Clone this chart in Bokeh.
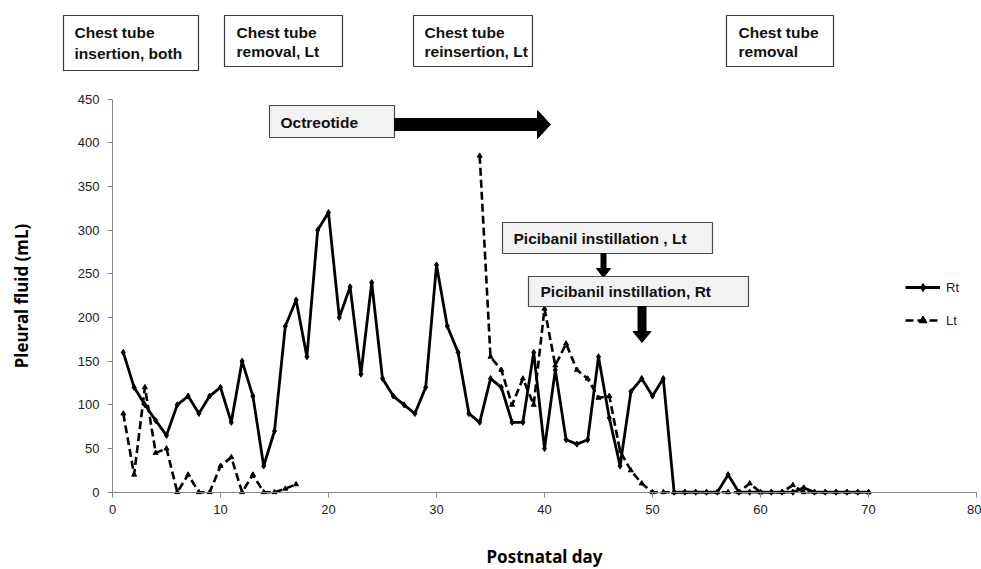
from bokeh.plotting import figure
from bokeh.models import Range1d, Legend, LegendItem, FixedTicker
from bokeh.core.properties import value
from bokeh.embed import file_html
from bokeh.resources import INLINE

nan = float("nan")

# ---------------- data ----------------
days = list(range(1, 71))
rt_ml = [160, 120, 100, 82, 65, 100, 110, 90, 110, 120,
         80, 150, 110, 30, 70, 190, 220, 155, 300, 320,
         200, 235, 135, 240, 130, 110, 100, 90, 120, 260,
         190, 160, 90, 80, 130, 120, 80, 80, 160, 50,
         140, 60, 55, 60, 155, 85, 30, 115, 130, 110,
         130, 0, 0, 0, 0, 0, 20, 0, 0, 0,
         0, 0, 0, 5, 0, 0, 0, 0, 0, 0]
lt_ml = [90, 20, 120, 45, 50, 0, 20, 0, 0, 30,
         40, 0, 20, 0, 0, 4, 9, nan, nan, nan,
         nan, nan, nan, nan, nan, nan, nan, nan, nan, nan,
         nan, nan, nan, 385, 155, 140, 100, 130, 100, 210,
         145, 170, 140, 130, 108, 110, 47, 25, 10, 0,
         0, 0, 0, 0, 0, 0, 0, 0, 10, 0,
         0, 0, 8, 0, 0, 0, 0, 0, 0, 0]
x_ticks = [0, 10, 20, 30, 40, 50, 60, 70, 80]
y_ticks = [0, 50, 100, 150, 200, 250, 300, 350, 400, 450]
series_names = ["Rt", "Lt"]
top_notes = [["Chest tube", "insertion, both"],
             ["Chest tube", "removal, Lt"],
             ["Chest tube", "reinsertion, Lt"],
             ["Chest tube", "removal"]]
octreotide_text = "Octreotide"
picibanil_lt_text = "Picibanil  instillation , Lt"
picibanil_rt_text = "Picibanil  instillation, Rt"

# ---------------- layout ----------------
W, H = 981, 569
FONT = "Liberation Sans"
X0, XS = 112.0, 10.8            # page x of day 0, px per day
Y0, YS = 491.7, 393.2 / 450     # page y of 0 mL, px per mL


def X(px):
    return (px - X0) / XS


def Y(py):
    return (Y0 - py) / YS


p = figure(width=W, height=H, x_range=Range1d(X(0), X(W)), y_range=Range1d(Y(H), Y(0)),
           toolbar_location=None, output_backend="svg", min_border=0)
p.title.visible = False
p.outline_line_color = None
p.xgrid.visible = False
p.ygrid.visible = False
p.xaxis.ticker = FixedTicker(ticks=x_ticks)
p.yaxis.ticker = FixedTicker(ticks=y_ticks)
p.xaxis.fixed_location = 0
p.yaxis.fixed_location = 0
p.xaxis.bounds = (x_ticks[0], x_ticks[-1])
p.yaxis.bounds = (y_ticks[0], y_ticks[-1])
for ax in (p.xaxis, p.yaxis):
    ax.axis_line_color = "#868686"
    ax.major_tick_line_color = "#868686"
    ax.minor_tick_line_color = None
    ax.major_tick_out = 5
    ax.major_tick_in = 0
    ax.major_label_text_font = FONT
    ax.major_label_text_font_size = "13px"
    ax.major_label_text_color = "#222222"
    ax.axis_label_text_font = "Noto Sans"
    ax.axis_label_text_font_style = "bold"
    ax.axis_label_text_font_size = "17px"
    ax.axis_label_text_color = "#000000"
    ax.major_label_standoff = 8
p.xaxis.axis_label = "Postnatal day"
p.xaxis.axis_label_standoff = 27
p.yaxis.axis_label = "Pleural fluid (mL)"
p.yaxis.axis_label_standoff = 42

rt_line = p.line(days, rt_ml, line_color="black", line_width=2.8)
rt_pts = p.scatter(days, rt_ml, marker="diamond", size=6, fill_color="black", line_color="black")
lt_line = p.line(days, lt_ml, line_color="black", line_width=2.6, line_dash="8 4")
lt_pts = p.scatter(days, lt_ml, marker="triangle", size=5, fill_color="black", line_color="black")


def box(l, t, r, b, fill, edge="#4a4a4a"):
    p.quad(left=X(l), right=X(r), top=Y(t), bottom=Y(b), fill_color=fill,
           line_color=edge, line_width=1.2)


def poly(pts):
    p.patch([X(a) for a, _ in pts], [Y(b) for _, b in pts], fill_color="black", line_color="black")


def label(px, py, txt):
    p.text(x=[X(px)], y=[Y(py)], text=[txt], text_font=value(FONT), text_font_style="bold",
           text_font_size="15.5px", text_baseline="middle", text_align="left",
           text_color="#111111")


# top strip of event boxes
top_boxes = [(63, 198, 15, 70, 74, 31.5, 53.0),
             (224, 342, 15, 66, 236, 31.5, 50.5),
             (413, 532, 15, 66, 424, 31.5, 50.5),
             (726, 833, 15, 66, 738, 31.5, 50.5)]
for (l, r, t, b, tx, y1, y2), lines in zip(top_boxes, top_notes):
    box(l, t, r, b, "white", "#3a3a3a")
    label(tx, y1, lines[0])
    label(tx, y2, lines[1])

# Octreotide
box(269, 105, 394, 137, "#f2f2f2")
label(280, 121.5, octreotide_text)
poly([(394, 118), (537, 118), (537, 110), (550, 124), (537, 138), (537, 130), (394, 130)])

# Picibanil Lt
box(502, 222, 712, 253, "#f2f2f2")
label(513, 237.5, picibanil_lt_text)
poly([(600.5, 253), (605.5, 253), (605.5, 268), (610, 268), (603, 277), (596, 268), (600.5, 268)])

# Picibanil Rt
box(528, 276, 748, 306, "#f2f2f2")
label(540, 291, picibanil_rt_text)
poly([(637.5, 306), (645.5, 306), (645.5, 331), (650.5, 331), (641.5, 342), (632.5, 331), (637.5, 331)])

legend = Legend(items=[LegendItem(label=series_names[0], renderers=[rt_line, rt_pts]),
                       LegendItem(label=series_names[1], renderers=[lt_line, lt_pts])],
                location=(905, H - 330), orientation="vertical",
                border_line_color=None, background_fill_alpha=0,
                glyph_width=35, glyph_height=20, label_standoff=6, spacing=13,
                padding=0, margin=0, label_text_font=FONT,
                label_text_font_size="13px", label_text_color="#222222")
p.add_layout(legend)

open("out.html", "w").write(file_html(p, INLINE))
